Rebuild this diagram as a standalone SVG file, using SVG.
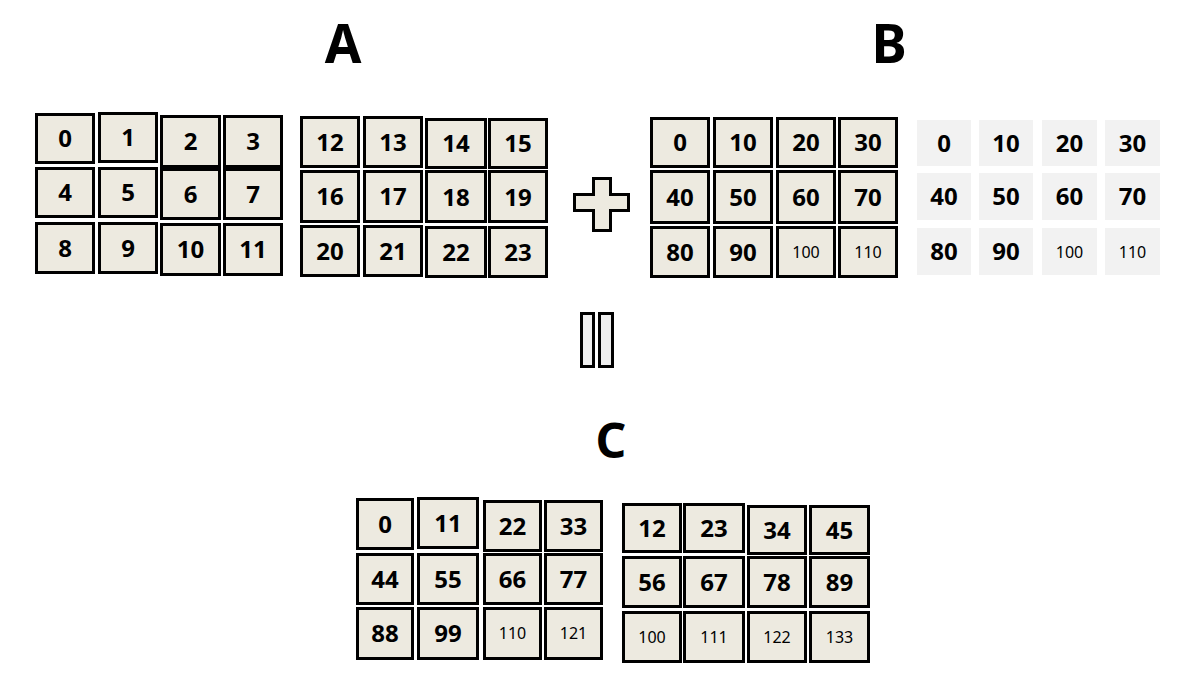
<svg xmlns="http://www.w3.org/2000/svg" width="1179" height="679" viewBox="0 0 1179 679">
<style>
.c{fill:#edeae0;stroke:#000;stroke-width:3}
.l{fill:#f2f2f2}
.t{font-family:"Noto Sans","DejaVu Sans",sans-serif;font-weight:bold;font-size:24px;text-anchor:middle;fill:#000}
.s{font-family:"Noto Sans","DejaVu Sans",sans-serif;font-size:16px;text-anchor:middle;fill:#000}
.h{font-family:"Noto Sans","DejaVu Sans",sans-serif;font-weight:bold;text-anchor:middle;fill:#000}
</style>
<rect width="1179" height="679" fill="#fff"/>
<g id="labels">
<text class="h" x="343" y="63" font-size="53">A</text>
<text class="h" x="889" y="63" font-size="53">B</text>
<text class="h" x="611" y="458" font-size="48">C</text>
</g>
<g id="matrixA">
<g id="A1">
<rect class="c" x="36.5" y="114.5" width="57" height="48"/><text class="t" x="65" y="147">0</text>
<rect class="c" x="99.5" y="113.5" width="57" height="48"/><text class="t" x="128" y="146">1</text>
<rect class="c" x="161.5" y="116.5" width="58" height="50"/><text class="t" x="190.5" y="150">2</text>
<rect class="c" x="224.5" y="116.5" width="57" height="50"/><text class="t" x="253" y="150">3</text>
<rect class="c" x="36.5" y="168.5" width="57" height="48"/><text class="t" x="65" y="201">4</text>
<rect class="c" x="99.5" y="168.5" width="57" height="48"/><text class="t" x="128" y="201">5</text>
<rect class="c" x="161.5" y="169.5" width="58" height="49"/><text class="t" x="190.5" y="202.5">6</text>
<rect class="c" x="224.5" y="169.5" width="57" height="49"/><text class="t" x="253" y="202.5">7</text>
<rect class="c" x="36.5" y="223.5" width="57" height="49"/><text class="t" x="65" y="256.5">8</text>
<rect class="c" x="99.5" y="223.5" width="57" height="49"/><text class="t" x="128" y="256.5">9</text>
<rect class="c" x="161.5" y="224.5" width="58" height="50"/><text class="t" x="190.5" y="258">10</text>
<rect class="c" x="224.5" y="224.5" width="57" height="50"/><text class="t" x="253" y="258">11</text>
</g>
<g id="A2">
<rect class="c" x="301.5" y="117.5" width="57" height="49"/><text class="t" x="330" y="150.5">12</text>
<rect class="c" x="364.5" y="117.5" width="57" height="49"/><text class="t" x="393" y="150.5">13</text>
<rect class="c" x="426.5" y="119.5" width="59" height="48"/><text class="t" x="456" y="152">14</text>
<rect class="c" x="489.5" y="119.5" width="57" height="48"/><text class="t" x="518" y="152">15</text>
<rect class="c" x="301.5" y="171.5" width="57" height="50"/><text class="t" x="330" y="205">16</text>
<rect class="c" x="364.5" y="171.5" width="57" height="50"/><text class="t" x="393" y="205">17</text>
<rect class="c" x="426.5" y="171.5" width="59" height="50"/><text class="t" x="456" y="206">18</text>
<rect class="c" x="489.5" y="171.5" width="57" height="50"/><text class="t" x="518" y="206">19</text>
<rect class="c" x="301.5" y="226.5" width="57" height="49"/><text class="t" x="330" y="259.5">20</text>
<rect class="c" x="364.5" y="226.5" width="57" height="49"/><text class="t" x="393" y="259.5">21</text>
<rect class="c" x="426.5" y="227.5" width="59" height="49"/><text class="t" x="456" y="261">22</text>
<rect class="c" x="489.5" y="227.5" width="57" height="49"/><text class="t" x="518" y="261">23</text>
</g>
</g>
<g id="plus">
<polygon class="c" points="593.5,178.5 610.5,178.5 610.5,194.5 628.5,194.5 628.5,210.5 610.5,210.5 610.5,230.5 593.5,230.5 593.5,210.5 574.5,210.5 574.5,194.5 593.5,194.5"/>
</g>
<g id="matrixB">
<rect class="c" x="651.5" y="118.5" width="57" height="48"/><text class="t" x="680" y="151">0</text>
<rect class="c" x="714.5" y="118.5" width="57" height="48"/><text class="t" x="743" y="151">10</text>
<rect class="c" x="777.5" y="118.5" width="57" height="48"/><text class="t" x="806" y="151">20</text>
<rect class="c" x="839.5" y="118.5" width="57" height="48"/><text class="t" x="868" y="151">30</text>
<rect class="c" x="651.5" y="171.5" width="57" height="51"/><text class="t" x="680" y="205.5">40</text>
<rect class="c" x="714.5" y="171.5" width="57" height="51"/><text class="t" x="743" y="205.5">50</text>
<rect class="c" x="777.5" y="171.5" width="57" height="51"/><text class="t" x="806" y="205.5">60</text>
<rect class="c" x="839.5" y="171.5" width="57" height="51"/><text class="t" x="868" y="205.5">70</text>
<rect class="c" x="651.5" y="227.5" width="57" height="49"/><text class="t" x="680" y="260.5">80</text>
<rect class="c" x="714.5" y="227.5" width="57" height="49"/><text class="t" x="743" y="260.5">90</text>
<rect class="c" x="777.5" y="227.5" width="57" height="49"/><text class="s" x="806" y="258">100</text>
<rect class="c" x="839.5" y="227.5" width="57" height="49"/><text class="s" x="868" y="258">110</text>
</g>
<g id="matrixBCopy">
<rect class="l" x="917" y="120" width="54" height="46"/><text class="t" x="944" y="151.5">0</text>
<rect class="l" x="979" y="120" width="54" height="46"/><text class="t" x="1006" y="151.5">10</text>
<rect class="l" x="1042" y="120" width="55" height="46"/><text class="t" x="1069.5" y="151.5">20</text>
<rect class="l" x="1105" y="120" width="55" height="46"/><text class="t" x="1132.5" y="151.5">30</text>
<rect class="l" x="917" y="173" width="54" height="47"/><text class="t" x="944" y="205">40</text>
<rect class="l" x="979" y="173" width="54" height="47"/><text class="t" x="1006" y="205">50</text>
<rect class="l" x="1042" y="173" width="55" height="47"/><text class="t" x="1069.5" y="205">60</text>
<rect class="l" x="1105" y="173" width="55" height="47"/><text class="t" x="1132.5" y="205">70</text>
<rect class="l" x="917" y="228" width="54" height="47"/><text class="t" x="944" y="260">80</text>
<rect class="l" x="979" y="228" width="54" height="47"/><text class="t" x="1006" y="260">90</text>
<rect class="l" x="1042" y="228" width="55" height="47"/><text class="s" x="1069.5" y="257.5">100</text>
<rect class="l" x="1105" y="228" width="55" height="47"/><text class="s" x="1132.5" y="257.5">110</text>
</g>
<g id="equals">
<rect x="581.5" y="313.5" width="12" height="53" fill="#efefef" stroke="#000" stroke-width="3"/>
<rect x="599.5" y="313.5" width="13" height="53" fill="#efefef" stroke="#000" stroke-width="3"/>
</g>
<g id="matrixC">
<g id="C1">
<rect class="c" x="357.5" y="499.5" width="55" height="49"/><text class="t" x="385" y="532.5">0</text>
<rect class="c" x="418.5" y="498.5" width="59" height="49"/><text class="t" x="448" y="531.5">11</text>
<rect class="c" x="484.5" y="501.5" width="56" height="49"/><text class="t" x="512.5" y="534.5">22</text>
<rect class="c" x="545.5" y="501.5" width="56" height="49"/><text class="t" x="573.5" y="534.5">33</text>
<rect class="c" x="357.5" y="554.5" width="55" height="49"/><text class="t" x="385" y="587.5">44</text>
<rect class="c" x="418.5" y="554.5" width="59" height="49"/><text class="t" x="448" y="587.5">55</text>
<rect class="c" x="484.5" y="554.5" width="56" height="49"/><text class="t" x="512.5" y="587.5">66</text>
<rect class="c" x="545.5" y="554.5" width="56" height="49"/><text class="t" x="573.5" y="587.5">77</text>
<rect class="c" x="357.5" y="608.5" width="55" height="50"/><text class="t" x="385" y="642">88</text>
<rect class="c" x="418.5" y="608.5" width="59" height="50"/><text class="t" x="448" y="642">99</text>
<rect class="c" x="484.5" y="608.5" width="56" height="50"/><text class="s" x="512.5" y="639">110</text>
<rect class="c" x="545.5" y="608.5" width="56" height="50"/><text class="s" x="573.5" y="639">121</text>
</g>
<g id="C2">
<rect class="c" x="623.5" y="504.5" width="57" height="47"/><text class="t" x="652" y="536.5">12</text>
<rect class="c" x="684.5" y="504.5" width="59" height="47"/><text class="t" x="714" y="536.5">23</text>
<rect class="c" x="748.5" y="506.5" width="57" height="47"/><text class="t" x="777" y="538.5">34</text>
<rect class="c" x="810.5" y="506.5" width="58" height="47"/><text class="t" x="839.5" y="538.5">45</text>
<rect class="c" x="623.5" y="557.5" width="57" height="49"/><text class="t" x="652" y="590.5">56</text>
<rect class="c" x="684.5" y="557.5" width="59" height="49"/><text class="t" x="714" y="590.5">67</text>
<rect class="c" x="748.5" y="557.5" width="57" height="49"/><text class="t" x="777" y="590.5">78</text>
<rect class="c" x="810.5" y="557.5" width="58" height="49"/><text class="t" x="839.5" y="590.5">89</text>
<rect class="c" x="623.5" y="612.5" width="57" height="49"/><text class="s" x="652" y="642.5">100</text>
<rect class="c" x="684.5" y="612.5" width="59" height="49"/><text class="s" x="714" y="642.5">111</text>
<rect class="c" x="748.5" y="612.5" width="57" height="49"/><text class="s" x="777" y="643">122</text>
<rect class="c" x="810.5" y="612.5" width="58" height="49"/><text class="s" x="839.5" y="643">133</text>
</g>
</g>
</svg>
